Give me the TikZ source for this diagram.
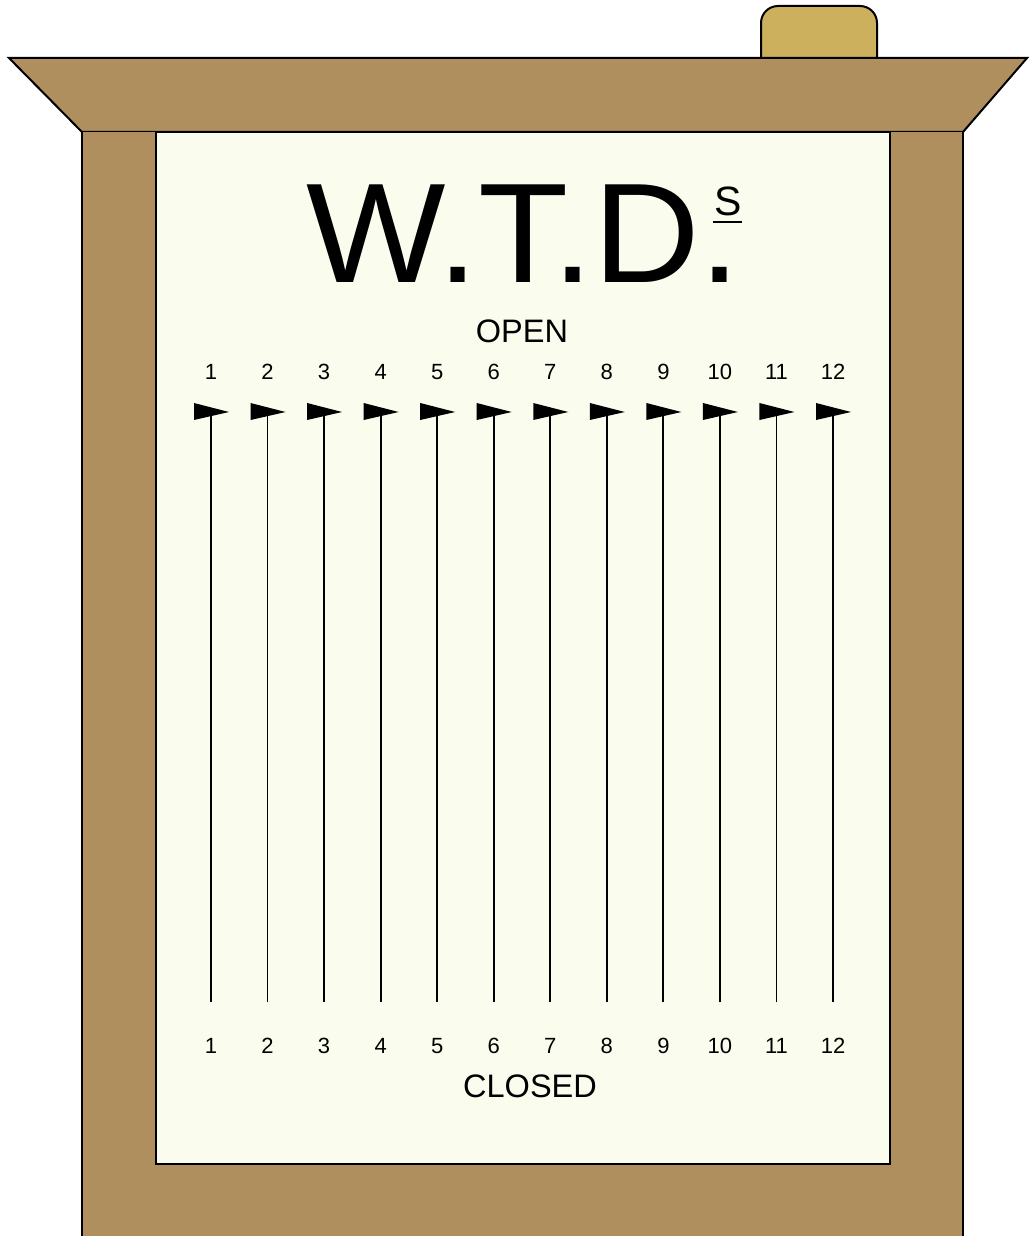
\documentclass[tikz,border=0pt]{standalone}
\usepackage{fontspec}
\setmainfont{Liberation Sans}
\usetikzlibrary{positioning}
\definecolor{framebrown}{RGB}{176,143,95}
\definecolor{knobgold}{RGB}{204,176,94}
\definecolor{panelcream}{RGB}{250,253,238}

\begin{document}
\begin{tikzpicture}[x=1pt, y=-1pt, line width=2pt,
  wood/.style={fill=framebrown, draw=black},
  numlabel/.style={inner sep=0, anchor=base, font=\fontsize{22}{22}\selectfont},
  signtext/.style={inner sep=0, anchor=base, font=\fontsize{32.5}{32.5}\selectfont}]
  \useasboundingbox (0,0) rectangle (1029,1236);
  % knob and cornice
  \draw[fill=knobgold, rounded corners=17pt] (761,58) -- (761,6) -- (877,6) -- (877,58);
  \draw[wood] (9,58) -- (1027,58) -- (963,132) -- (82,132) -- cycle;
  % case and panel
  \fill[framebrown] (82,132) rectangle (963,1236);
  \draw (82,1236) -- (82,132) (963,132) -- (963,1236);
  \draw[fill=panelcream] (156,132) rectangle (890,1164);
  % heading
  \node[inner sep=0, anchor=base west, font=\fontsize{142}{142}\selectfont] (title) at (305,282) {\scalebox{1.04}[1]{W.T.D.}};
  \node[inner sep=0, anchor=base west, font=\fontsize{41}{41}\selectfont] (sup) at (713,215) {S};
  \draw ([yshift=-7pt]sup.base west) -- ([yshift=-7pt]sup.base east);
  \node[signtext] (open) at (522,342) {OPEN};
  \node[signtext] (closed) at (530,1097) {CLOSED};
  % flags
  \foreach \i [evaluate=\i as \px using 211+(\i-1)*56.545] in {1,...,12} {
    \node[numlabel] (top\i) at (\px,379) {\i};
    \node[numlabel] (bot\i) at (\px,1053) {\i};
    \coordinate (foot\i) at (\px,1002);
    \coordinate (mast\i) at (\px,412);
    \draw[line width=1.8pt] (foot\i) -- (mast\i);
    \fill ([xshift=-17pt,yshift=9pt]mast\i) -- ([xshift=18pt]mast\i) -- ([xshift=-17pt,yshift=-8pt]mast\i) -- cycle;
  }
\end{tikzpicture}
\end{document}
